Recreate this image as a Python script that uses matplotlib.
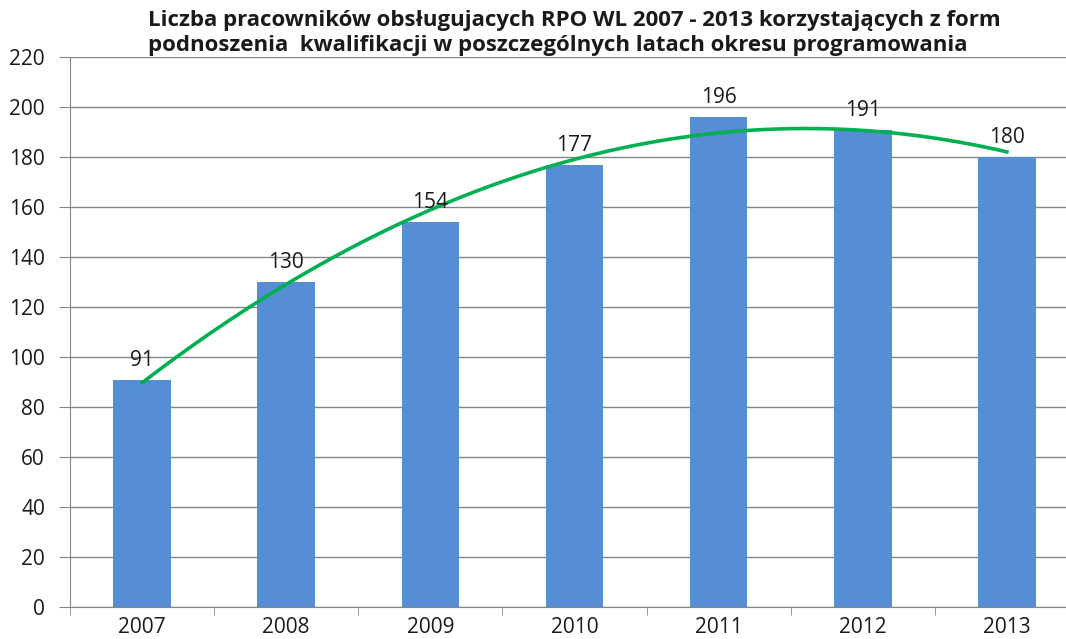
import numpy as np
import matplotlib.pyplot as plt
from matplotlib.ticker import FixedLocator

# dane
lata = ['2007', '2008', '2009', '2010', '2011', '2012', '2013']
pracownicy = [91, 130, 154, 177, 196, 191, 180]
tytul = ('Liczba pracowników obsługujacych RPO WL 2007 - 2013 korzystających z form\n'
         'podnoszenia  kwalifikacji w poszczególnych latach okresu programowania')

plt.rcParams['font.family'] = ['Open Sans', 'DejaVu Sans']

fig = plt.figure(figsize=(10.66, 6.39), dpi=100)
ax = fig.add_axes([70 / 1066, 32 / 639, 0.9465, 550 / 639])

x = np.arange(len(lata))
ax.bar(x, pracownicy, width=0.4, color='#558ED5', zorder=2)

# linia trendu (wielomian 2 stopnia)
wsp = np.polyfit(x, pracownicy, 2)
xs = np.linspace(x[0], x[-1], 200)
ax.plot(xs, np.polyval(wsp, xs), color='#00B050', lw=2.6, zorder=3)

for xi, v in zip(x, pracownicy):
    ax.text(xi, v + 3.5, str(v), ha='center', va='bottom', fontsize=15, color='#1a1a1a', zorder=4)

ax.set_xlim(-0.5, 6.5)
ax.set_ylim(0, 220)
ax.set_yticks(range(0, 221, 20))
ax.set_xticks(x)
ax.set_xticklabels(lata)
ax.xaxis.set_minor_locator(FixedLocator(np.arange(-0.5, 7, 1)))
ax.tick_params(axis='x', which='major', length=0, pad=7, labelsize=15, colors='#1a1a1a')
ax.tick_params(axis='x', which='minor', length=6, color='#868686')
ax.tick_params(axis='y', length=8, color='#868686', labelsize=15, labelcolor='#1a1a1a', pad=10)
ax.grid(axis='y', color='#868686', lw=1, zorder=0)
for s in ['top', 'right']:
    ax.spines[s].set_visible(False)
for s in ['left', 'bottom']:
    ax.spines[s].set_color('#868686')

fig.text(148 / 1066, 0.985, tytul, ha='left', va='top', fontsize=16, fontweight='bold',
         color='#1a1a1a', linespacing=1.3, multialignment='left')

fig.savefig('out.png', dpi=100)
